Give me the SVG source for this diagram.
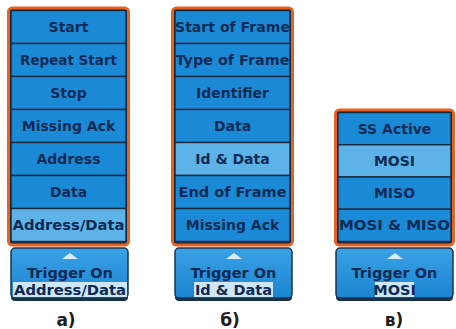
<svg xmlns="http://www.w3.org/2000/svg" width="456" height="329" viewBox="0 0 456 329">
  <defs>
    <linearGradient id="btnGrad" x1="0" y1="0" x2="0" y2="1">
      <stop offset="0" stop-color="#3aa2e6"/>
      <stop offset="1" stop-color="#1a84d0"/>
    </linearGradient>
    <style>
      .frame { fill: #1a2c44; stroke: #e8621e; stroke-width: 3; }
      .cell { fill: #1a8ad6; stroke: #16283e; stroke-width: 1.4; }
      .cell.sel { fill: #5db2e8; }
      .lbl { font-family: "DejaVu Sans", "Noto Sans", sans-serif; font-weight: bold; font-size: 14px; fill: #0e2a55; text-anchor: middle; }
      .btn { fill: url(#btnGrad); stroke: #1a3550; stroke-width: 1.5; }
      .btnShadow { fill: #163048; }
      .arrow { fill: #d8ecf8; }
      .hl { fill: #cfe6f5; }
      .trig { font-family: "DejaVu Sans", "Noto Sans", sans-serif; font-weight: bold; font-size: 14.5px; fill: #0e2a55; text-anchor: middle; }
      .val { font-family: "DejaVu Sans", "Noto Sans", sans-serif; font-weight: bold; font-size: 14.5px; fill: #0e2a55; text-anchor: middle; }
      .cap { font-family: "DejaVu Sans", "Noto Sans", sans-serif; font-weight: bold; font-size: 17px; fill: #1e1e1e; text-anchor: middle; }
    </style>
  </defs>
  <rect width="456" height="329" fill="#ffffff"/>

  <!-- Menu a: I2C trigger types -->
  <g id="menu-a">
    <rect class="frame" x="8.5" y="8" width="120" height="237" rx="4"/>
    <rect class="cell" x="11" y="10.5" width="115" height="33"/>
    <rect class="cell" x="11" y="43.5" width="115" height="33"/>
    <rect class="cell" x="11" y="76.5" width="115" height="33"/>
    <rect class="cell" x="11" y="109.5" width="115" height="33"/>
    <rect class="cell" x="11" y="142.5" width="115" height="33"/>
    <rect class="cell" x="11" y="175.5" width="115" height="33"/>
    <rect class="cell sel" x="11" y="208.5" width="115" height="33"/>
    <text class="lbl" x="68.5" y="32">Start</text>
    <text class="lbl" x="68.5" y="65" textLength="97" lengthAdjust="spacingAndGlyphs">Repeat Start</text>
    <text class="lbl" x="68.5" y="98">Stop</text>
    <text class="lbl" x="68.5" y="131">Missing Ack</text>
    <text class="lbl" x="68.5" y="164">Address</text>
    <text class="lbl" x="68.5" y="197">Data</text>
    <text class="lbl" x="68.5" y="230" textLength="112" lengthAdjust="spacingAndGlyphs">Address/Data</text>
  </g>
  <g id="button-a">
    <rect class="btnShadow" x="11" y="250" width="117" height="51" rx="4"/>
    <rect class="btn" x="11" y="248" width="117" height="50" rx="4"/>
    <polygon class="arrow" points="62,259 70,253 78,259"/>
    <text class="trig" x="70" y="278">Trigger On</text>
    <rect class="hl" x="13" y="282" width="114" height="15"/>
    <text class="val" x="70" y="295" textLength="112" lengthAdjust="spacingAndGlyphs">Address/Data</text>
  </g>
  <text id="cap-a" class="cap" x="66" y="326">а)</text>

  <!-- Menu b: CAN trigger types -->
  <g id="menu-b">
    <rect class="frame" x="172.5" y="8" width="120" height="237" rx="4"/>
    <rect class="cell" x="175" y="10.5" width="115" height="33"/>
    <rect class="cell" x="175" y="43.5" width="115" height="33"/>
    <rect class="cell" x="175" y="76.5" width="115" height="33"/>
    <rect class="cell" x="175" y="109.5" width="115" height="33"/>
    <rect class="cell sel" x="175" y="142.5" width="115" height="33"/>
    <rect class="cell" x="175" y="175.5" width="115" height="33"/>
    <rect class="cell" x="175" y="208.5" width="115" height="33"/>
    <text class="lbl" x="232.5" y="32" textLength="115" lengthAdjust="spacingAndGlyphs">Start of Frame</text>
    <text class="lbl" x="232.5" y="65" textLength="114" lengthAdjust="spacingAndGlyphs">Type of Frame</text>
    <text class="lbl" x="232.5" y="98">Identifier</text>
    <text class="lbl" x="232.5" y="131">Data</text>
    <text class="lbl" x="232.5" y="164">Id &amp; Data</text>
    <text class="lbl" x="232.5" y="197" textLength="108" lengthAdjust="spacingAndGlyphs">End of Frame</text>
    <text class="lbl" x="232.5" y="230">Missing Ack</text>
  </g>
  <g id="button-b">
    <rect class="btnShadow" x="175" y="250" width="117" height="51" rx="4"/>
    <rect class="btn" x="175" y="248" width="117" height="50" rx="4"/>
    <polygon class="arrow" points="226,259 234,253 242,259"/>
    <text class="trig" x="233.5" y="278">Trigger On</text>
    <rect class="hl" x="194" y="282" width="79" height="15"/>
    <text class="val" x="233.5" y="295">Id &amp; Data</text>
  </g>
  <text id="cap-b" class="cap" x="230" y="326">б)</text>

  <!-- Menu c: SPI trigger types -->
  <g id="menu-c">
    <rect class="frame" x="335.5" y="110" width="118" height="135" rx="4"/>
    <rect class="cell" x="338" y="112.5" width="113" height="32.25"/>
    <rect class="cell sel" x="338" y="144.75" width="113" height="32.25"/>
    <rect class="cell" x="338" y="177" width="113" height="32.25"/>
    <rect class="cell" x="338" y="209.25" width="113" height="32.25"/>
    <text class="lbl" x="394.5" y="133.5">SS Active</text>
    <text class="lbl" x="394.5" y="165.5">MOSI</text>
    <text class="lbl" x="394.5" y="198">MISO</text>
    <text class="lbl" x="394.5" y="230" textLength="111" lengthAdjust="spacingAndGlyphs">MOSI &amp; MISO</text>
  </g>
  <g id="button-c">
    <rect class="btnShadow" x="336" y="250" width="117" height="51" rx="4"/>
    <rect class="btn" x="336" y="248" width="117" height="50" rx="4"/>
    <polygon class="arrow" points="387,259 395,253 403,259"/>
    <text class="trig" x="394.5" y="278">Trigger On</text>
    <rect class="hl" x="375" y="282" width="39" height="15"/>
    <text class="val" x="394.5" y="295">MOSI</text>
  </g>
  <text id="cap-c" class="cap" x="394" y="326">в)</text>
</svg>
